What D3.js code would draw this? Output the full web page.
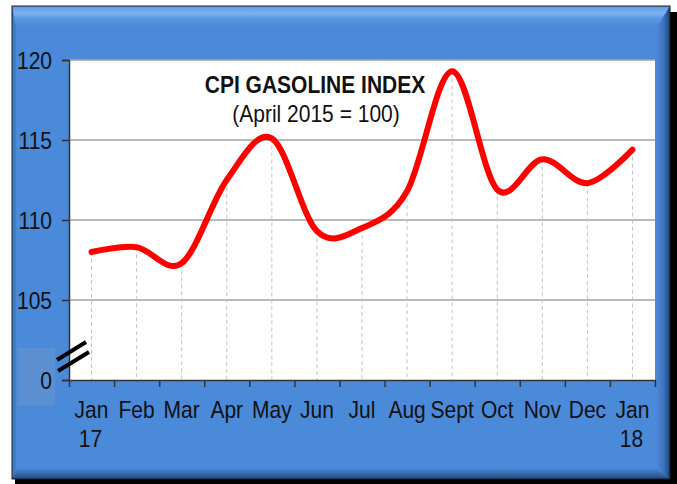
<!DOCTYPE html>
<html>
<head>
<meta charset="utf-8">
<script src="https://cdn.jsdelivr.net/npm/d3@7.9.0/dist/d3.min.js"></script>
<style>
  html, body { margin: 0; padding: 0; background: #fff; }
  svg { display: block; }
  text { font-family: "Liberation Sans", Arial, sans-serif; fill: #111; }
</style>
</head>
<body>
<svg id="chart" width="677" height="484"></svg>
<script>
const months = ['Jan', 'Feb', 'Mar', 'Apr', 'May', 'Jun', 'Jul', 'Aug', 'Sept', 'Oct', 'Nov', 'Dec', 'Jan'];
const yearLabels = ['17', '', '', '', '', '', '', '', '', '', '', '', '18'];
const cpiValues = [108.0, 108.3, 107.3, 112.5, 115.1, 109.3, 109.5, 111.8, 119.3, 111.9, 113.8, 112.3, 114.4];
const yTickValues = [100, 105, 110, 115, 120];
const yTickLabels = ['0', '105', '110', '115', '120'];
const title = 'CPI GASOLINE INDEX';
const subtitle = '(April 2015 = 100)';

const svg = d3.select('#chart');
const plot = { left: 69, right: 655, top: 60, bottom: 380 };
const stretch = 1.16;

// frame with bevel and shadow
const defs = svg.append('defs');
function grad(id, x2, y2, stops) {
  const g = defs.append('linearGradient').attr('id', id)
    .attr('x1', 0).attr('y1', 0).attr('x2', x2).attr('y2', y2);
  stops.forEach(s => g.append('stop').attr('offset', s[0]).attr('stop-color', s[1]));
}
grad('topBevel', 0, 1, [[0, '#5d98e2'], [0.35, '#7fb3f2'], [0.6, '#5a97e4'], [1, '#4a8ad9']]);
grad('rightBevel', 1, 0, [[0, '#4a88d6'], [0.5, '#3c74bd'], [1, '#1d4377']]);
grad('bottomBevel', 0, 1, [[0, '#4683cf'], [0.5, '#3568ab'], [1, '#1f4a82']]);

const fx0 = 12, fy0 = 6, fx1 = 670, fy1 = 479;
svg.append('rect').attr('x', fx0 + 3).attr('y', fy0 + 6)
  .attr('width', fx1 - fx0 + 4).attr('height', fy1 - fy0)
  .attr('fill', '#000');
svg.append('rect').attr('x', fx0).attr('y', fy0)
  .attr('width', fx1 - fx0).attr('height', fy1 - fy0)
  .attr('fill', '#4a8ad9');
const bt = 21, br = 13, bb = 10, bl = 4;
svg.append('polygon').attr('fill', 'url(#topBevel)')
  .attr('points', [[fx0, fy0], [fx1, fy0], [fx1 - br, fy0 + bt], [fx0 + bl, fy0 + bt]].join(' '));
svg.append('polygon').attr('fill', 'url(#rightBevel)')
  .attr('points', [[fx1, fy0], [fx1, fy1], [fx1 - br, fy1 - bb], [fx1 - br, fy0 + bt]].join(' '));
svg.append('polygon').attr('fill', 'url(#bottomBevel)')
  .attr('points', [[fx0, fy1], [fx1, fy1], [fx1 - br, fy1 - bb], [fx0 + bl, fy1 - bb]].join(' '));
svg.append('polygon').attr('fill', '#3f7cc8')
  .attr('points', [[fx0, fy0], [fx0 + bl, fy0 + bt], [fx0 + bl, fy1 - bb], [fx0, fy1]].join(' '));
svg.append('rect').attr('x', fx0).attr('y', fy0)
  .attr('width', fx1 - fx0).attr('height', fy1 - fy0)
  .attr('fill', 'none').attr('stroke', '#1a1a1a').attr('stroke-width', 1);

// scales
const x = d3.scaleBand().domain(d3.range(months.length)).range([plot.left, plot.right]).padding(0);
const xEdge = d3.scaleLinear().domain([0, months.length]).range([plot.left, plot.right]);
const y = d3.scaleLinear().domain([100, 120]).range([plot.bottom, plot.top]);
const cx = i => x(i) + x.bandwidth() / 2;

// "0" label patch
svg.append('rect').attr('x', 18).attr('y', y(100) - 32).attr('width', 37).attr('height', 57)
  .attr('fill', '#5a8fd2');

// plot area
svg.append('rect').attr('x', plot.left).attr('y', plot.top)
  .attr('width', plot.right - plot.left).attr('height', plot.bottom - plot.top)
  .attr('fill', '#fff');

// horizontal gridlines
svg.append('g').selectAll('line').data(yTickValues.filter(v => v > 100)).join('line')
  .attr('x1', plot.left).attr('x2', plot.right)
  .attr('y1', d => y(d)).attr('y2', d => y(d))
  .attr('stroke', '#a3a3a3').attr('stroke-width', 1.6);

// drop lines
svg.append('g').selectAll('line').data(cpiValues).join('line')
  .attr('x1', (d, i) => cx(i)).attr('x2', (d, i) => cx(i))
  .attr('y1', d => y(d)).attr('y2', y(100))
  .attr('stroke', '#c4c4c4').attr('stroke-width', 1).attr('stroke-dasharray', '4,3');

// y axis
const yAxis = svg.append('g').attr('transform', `translate(${plot.left},0)`)
  .call(d3.axisLeft(y).tickValues(yTickValues)
    .tickFormat((d, i) => yTickLabels[i]).tickSize(7).tickPadding(10));
yAxis.select('.domain').attr('stroke', '#333').attr('stroke-width', 1.5);
yAxis.selectAll('.tick line').attr('stroke', '#333').attr('stroke-width', 1.5);
yAxis.selectAll('.tick text')
  .attr('font-size', 21).attr('font-family', '"Liberation Sans", Arial, sans-serif')
  .attr('fill', '#111').attr('dy', null).attr('y', 0)
  .attr('dominant-baseline', 'central')
  .attr('transform', `scale(1,${stretch})`);

// x axis
const xAxis = svg.append('g').attr('transform', `translate(0,${y(100)})`)
  .call(d3.axisBottom(xEdge).tickValues(d3.range(months.length + 1))
    .tickFormat('').tickSize(7).tickSizeOuter(0));
xAxis.select('.domain').attr('stroke', '#333').attr('stroke-width', 1.5);
xAxis.selectAll('.tick line').attr('stroke', '#333').attr('stroke-width', 1.5);

function stretchedText(g, tx, ty, str, opts = {}) {
  return g.append('text')
    .attr('transform', `translate(${tx},${ty}) scale(1,${stretch})`)
    .attr('text-anchor', 'middle')
    .attr('font-size', opts.size || 21)
    .attr('font-weight', opts.weight || 'normal')
    .text(str);
}

const xl = svg.append('g');
months.forEach((m, i) => {
  stretchedText(xl, cx(i), 418, m);
  if (yearLabels[i]) stretchedText(xl, cx(i) - 1, 446.5, yearLabels[i]);
});

// axis break marks
const brk = svg.append('g').attr('stroke', '#000').attr('stroke-width', 4);
[[-12, -20, 17, -38], [-11, -9, 20, -28]].forEach(l => {
  brk.append('line')
    .attr('x1', plot.left + l[0]).attr('y1', y(100) + l[1])
    .attr('x2', plot.left + l[2]).attr('y2', y(100) + l[3]);
});

// line
const line = d3.line().x((d, i) => cx(i)).y(d => y(d)).curve(d3.curveCatmullRom.alpha(0));
svg.append('path').datum(cpiValues).attr('d', line)
  .attr('fill', 'none').attr('stroke', '#ff0000').attr('stroke-width', 6)
  .attr('stroke-linecap', 'round').attr('stroke-linejoin', 'round');

// titles
stretchedText(svg, 315, 92.5, title, { weight: 'bold' });
stretchedText(svg, 316, 121.5, subtitle);
</script>
</body>
</html>
